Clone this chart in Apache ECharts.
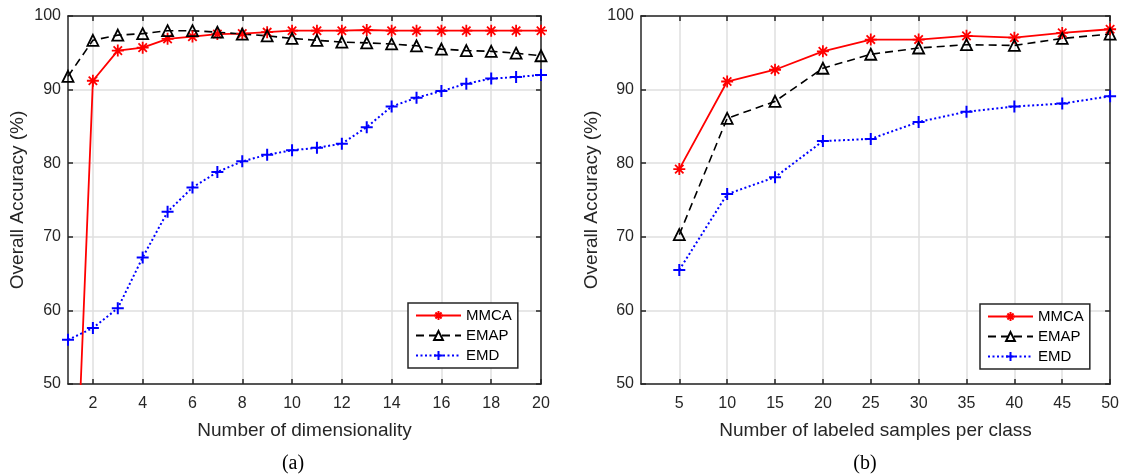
<!DOCTYPE html>
<html>
<head>
<meta charset="utf-8">
<script src="https://cdn.jsdelivr.net/npm/echarts@6/dist/echarts.min.js"></script>
<style>
html,body{margin:0;padding:0;background:#fff;}
#chart{width:1122px;height:474px;}
</style>
</head>
<body>
<div id="chart"></div>
<script>
// ---- data ----
const seriesNames = ['MMCA', 'EMAP', 'EMD'];

const dimsA = [1, 2, 3, 4, 5, 6, 7, 8, 9, 10, 11, 12, 13, 14, 15, 16, 17, 18, 19, 20];
const mmcaA = [7, 91.2, 95.3, 95.7, 96.9, 97.2, 97.55, 97.6, 97.8, 98.0, 98.0, 98.0, 98.1, 98.0, 98.0, 98.0, 98.0, 98.0, 98.0, 98.0];
const emapA = [91.8, 96.7, 97.4, 97.6, 98.0, 98.0, 97.8, 97.55, 97.3, 96.95, 96.7, 96.45, 96.35, 96.2, 95.95, 95.5, 95.3, 95.2, 94.95, 94.6];
const emdA  = [56.0, 57.6, 60.3, 67.2, 73.4, 76.7, 78.8, 80.25, 81.15, 81.75, 82.1, 82.65, 84.9, 87.7, 88.9, 89.8, 90.8, 91.5, 91.7, 92.0];

const samplesB = [5, 10, 15, 20, 25, 30, 35, 40, 45, 50];
const mmcaB = [79.2, 91.1, 92.7, 95.2, 96.8, 96.8, 97.3, 97.05, 97.7, 98.2];
const emapB = [70.3, 86.1, 88.4, 92.9, 94.8, 95.65, 96.1, 96.0, 96.95, 97.55];
const emdB  = [65.5, 75.8, 78.1, 83.0, 83.3, 85.6, 87.0, 87.7, 88.1, 89.1];

const ticksA = [2, 4, 6, 8, 10, 12, 14, 16, 18, 20];
const ticksB = [5, 10, 15, 20, 25, 30, 35, 40, 45, 50];

const xTitleA = 'Number of dimensionality';
const xTitleB = 'Number of labeled samples per class';
const yTitle = 'Overall Accuracy (%)';
const captions = ['(a)', '(b)'];

// ---- styles ----
const AX = '#262626';
const GRIDC = '#dfdfdf';
const SANS = 'Liberation Sans';
const starPath = 'path://M0,5L10,5M5,0L5,10M1.5,1.5L8.5,8.5M8.5,1.5L1.5,8.5';
const plusPath = 'path://M0,5L10,5M5,0L5,10';

function zip(xs, ys) { return xs.map((x, i) => [x, ys[i]]); }

function bottomX(gi, min, max, ticks, name) {
  return {
    type: 'value', gridIndex: gi, position: 'bottom', min: min, max: max,
    axisLine: { show: true, onZero: false, lineStyle: { color: AX, width: 1.5 } },
    axisTick: { show: true, inside: true, length: 5, customValues: ticks, lineStyle: { color: AX, width: 1.5 } },
    axisLabel: { show: true, customValues: ticks, margin: 12, fontSize: 16, color: AX, fontFamily: SANS },
    splitLine: { show: true, lineStyle: { color: GRIDC, width: 1.5 } },
    name: name, nameLocation: 'middle', nameGap: 37,
    nameTextStyle: { fontSize: 19, color: AX, fontFamily: SANS }
  };
}
function topX(gi, min, max, ticks) {
  return {
    type: 'value', gridIndex: gi, position: 'top', min: min, max: max,
    axisLine: { show: true, onZero: false, lineStyle: { color: AX, width: 1.5 } },
    axisTick: { show: true, inside: true, length: 5, customValues: ticks, lineStyle: { color: AX, width: 1.5 } },
    axisLabel: { show: false },
    splitLine: { show: false }
  };
}
function leftY(gi, gap) {
  return {
    type: 'value', gridIndex: gi, position: 'left', min: 50, max: 100, interval: 10,
    axisLine: { show: true, onZero: false, lineStyle: { color: AX, width: 1.5 } },
    axisTick: { show: true, inside: true, length: 5, lineStyle: { color: AX, width: 1.5 } },
    axisLabel: { show: true, margin: 7, fontSize: 16, color: AX, fontFamily: SANS },
    splitLine: { show: true, lineStyle: { color: GRIDC, width: 1.5 } },
    name: yTitle, nameLocation: 'middle', nameGap: gap,
    nameTextStyle: { fontSize: 19, color: AX, fontFamily: SANS }
  };
}
function rightY(gi) {
  return {
    type: 'value', gridIndex: gi, position: 'right', min: 50, max: 100, interval: 10,
    axisLine: { show: true, onZero: false, lineStyle: { color: AX, width: 1.5 } },
    axisTick: { show: true, inside: true, length: 5, lineStyle: { color: AX, width: 1.5 } },
    axisLabel: { show: false },
    splitLine: { show: false }
  };
}

function makeSeries(gi, xs, mm, em, ed) {
  const xi = gi * 2, yi = gi * 2;
  return [
    {
      name: 'MMCA', type: 'line', xAxisIndex: xi, yAxisIndex: yi, clip: true,
      data: zip(xs, mm), symbol: starPath, symbolSize: 12,
      itemStyle: { color: '#ff0000', borderColor: '#ff0000', borderWidth: 1.8 },
      lineStyle: { color: '#ff0000', width: 1.8, type: 'solid' },
      emphasis: { disabled: true }, z: 3
    },
    {
      name: 'EMAP', type: 'line', xAxisIndex: xi, yAxisIndex: yi, clip: true,
      data: zip(xs, em), symbol: 'triangle', symbolSize: 11,
      itemStyle: { color: 'rgba(255,255,255,0)', borderColor: '#000000', borderWidth: 1.8 },
      lineStyle: { color: '#000000', width: 1.6, type: [8, 5] },
      emphasis: { disabled: true }, z: 3
    },
    {
      name: 'EMD', type: 'line', xAxisIndex: xi, yAxisIndex: yi, clip: true,
      data: zip(xs, ed), symbol: plusPath, symbolSize: 12,
      itemStyle: { color: '#0000ff', borderColor: '#0000ff', borderWidth: 2 },
      lineStyle: { color: '#0000ff', width: 2, type: [2, 2.5] },
      emphasis: { disabled: true }, z: 3
    }
  ];
}

function legendAt(left, top) {
  return {
    data: seriesNames, orient: 'vertical', left: left, top: top,
    itemWidth: 45, itemHeight: 11, itemGap: 5,
    padding: [5, 6, 5, 7],
    backgroundColor: '#ffffff', borderColor: AX, borderWidth: 1.5, borderRadius: 0,
    textStyle: { fontSize: 15, color: '#000', fontFamily: SANS },
    selectedMode: false
  };
}

const chart = echarts.init(document.getElementById('chart'), null, { renderer: 'canvas' });
chart.setOption({
  animation: false,
  backgroundColor: '#ffffff',
  grid: [
    { left: 68, top: 16, width: 473, height: 368, containLabel: false },
    { left: 641, top: 16, width: 471, height: 368, containLabel: false }
  ],
  xAxis: [
    bottomX(0, 1, 20, ticksA, xTitleA),
    topX(0, 1, 20, ticksA),
    bottomX(1, 1, 50, ticksB, xTitleB),
    topX(1, 1, 50, ticksB)
  ],
  yAxis: [
    leftY(0, 41),
    rightY(0),
    leftY(1, 40),
    rightY(1)
  ],
  legend: [legendAt(408, 303), legendAt(980, 304)],
  series: [].concat(
    makeSeries(0, dimsA, mmcaA, emapA, emdA),
    makeSeries(1, samplesB, mmcaB, emapB, emdB)
  ),
  graphic: [
    { type: 'text', x: 293, y: 464, style: { text: captions[0], font: '20px "Liberation Serif"', fill: '#000', align: 'center', verticalAlign: 'middle' } },
    { type: 'text', x: 865, y: 464, style: { text: captions[1], font: '20px "Liberation Serif"', fill: '#000', align: 'center', verticalAlign: 'middle' } }
  ]
});
</script>
</body>
</html>
